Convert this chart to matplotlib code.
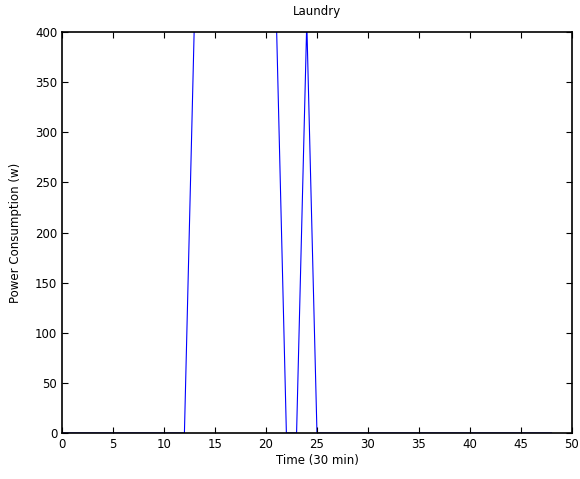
import matplotlib
matplotlib.use('Agg')
import matplotlib.pyplot as plt

# half-hour slots and laundry power (w); values above 400 get clipped by the axis
slots = list(range(0, 49))
power = [0] * 13 + [420] * 9 + [0, 0] + [410] + [0] * 24

x_ticks = list(range(0, 51, 5))
y_ticks = list(range(0, 401, 50))

plt.rcParams['font.family'] = 'DejaVu Sans'
fig = plt.figure(figsize=(5.8, 4.79), dpi=100)
ax = fig.add_axes([0.107, 0.096, 0.879, 0.837])

ax.plot(slots, power, color='#0000ff', linewidth=0.8, zorder=1)
ax.set_xlim(0, 50)
ax.set_ylim(0, 400)
ax.set_xticks(x_ticks)
ax.set_yticks(y_ticks)
ax.tick_params(direction='in', length=4, labelsize=8.5, top=True, right=True)
ax.set_xlabel('Time (30 min)', fontsize=8.5, labelpad=2)
ax.set_ylabel('Power Consumption (w)', fontsize=8.5, labelpad=9)
ax.set_title('Laundry', fontsize=8.5, pad=12)
for s in ax.spines.values():
    s.set_linewidth(1.2)
    s.set_zorder(3)

fig.savefig('out.png', dpi=100)
